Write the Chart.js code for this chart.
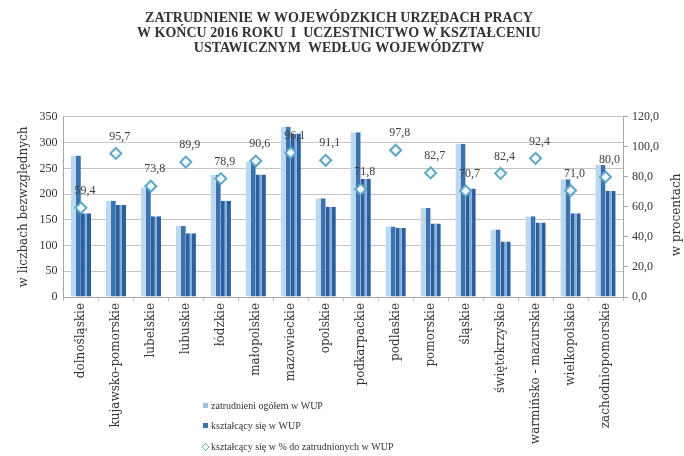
<!DOCTYPE html>
<html>
<head>
<meta charset="utf-8">
<script src="https://cdn.jsdelivr.net/npm/chart.js@4.4.0/dist/chart.umd.min.js"></script>
<style>
  html, body { margin: 0; padding: 0; background: #fff; }
  #wrap { width: 684px; height: 456px; position: relative; }
</style>
</head>
<body>
<div id="wrap"><canvas id="chart"></canvas></div>
<script>
const wojewodztwa = ['dolnośląskie', 'kujawsko-pomorskie', 'lubelskie', 'lubuskie', 'łódzkie', 'małopolskie',
    'mazowieckie', 'opolskie', 'podkarpackie', 'podlaskie', 'pomorskie', 'śląskie',
    'świętokrzyskie', 'warmińsko - mazurskie', 'wielkopolskie', 'zachodniopomorskie'];
const zatrudnieni = [275, 187, 213, 138, 237, 263, 331, 192, 320, 137, 173, 298, 131, 157, 229, 257];
const ksztalcacy = [163, 179, 157, 124, 187, 238, 318, 175, 230, 134, 143, 211, 108, 145, 163, 206];
const procent = [59.4, 95.7, 73.8, 89.9, 78.9, 90.6, 96.1, 91.1, 71.8, 97.8, 82.7, 70.7, 82.4, 92.4, 71.0, 80.0];

const serif = 'Liberation Serif';
const wide = 'DejaVu Serif';
const fmt = v => v.toFixed(1).replace('.', ',');

// etykiety nad rombami, legenda pionowa i tytul prawej osi
const extras = {
    id: 'extras',
    afterDatasetsDraw(chart) {
        const ctx = chart.ctx;
        const meta = chart.getDatasetMeta(2);
        ctx.save();
        ctx.font = '12px "' + serif + '"';
        ctx.fillStyle = '#404040';
        ctx.textAlign = 'center';
        ctx.textBaseline = 'middle';
        meta.data.forEach((pt, i) => {
            ctx.fillText(fmt(procent[i]), pt.x + 4, pt.y - 17);
        });
        ctx.restore();
    },
    afterDraw(chart) {
        const ctx = chart.ctx;
        const ds = chart.data.datasets;
        ctx.save();
        ctx.font = '10px "' + serif + '"';
        ctx.textBaseline = 'middle';
        const x = 206;
        const rows = [406, 426, 447];
        ds.forEach((d, i) => {
            const y = rows[i];
            if (i < 2) {
                ctx.fillStyle = d.legendColor;
                ctx.fillRect(x - 3, y - 3, 5, 5);
            } else {
                ctx.beginPath();
                ctx.moveTo(x - 0.5, y - 3.5);
                ctx.lineTo(x + 3, y);
                ctx.lineTo(x - 0.5, y + 3.5);
                ctx.lineTo(x - 4, y);
                ctx.closePath();
                ctx.fillStyle = '#fff';
                ctx.fill();
                ctx.strokeStyle = '#6aaecb';
                ctx.lineWidth = 1;
                ctx.stroke();
            }
            ctx.fillStyle = '#333';
            ctx.fillText(d.label, x + 5, y);
        });
        // tytul prawej osi
        const yR = chart.scales.y1;
        ctx.font = '12px "' + wide + '"';
        ctx.textAlign = 'center';
        ctx.translate(677, (yR.top + yR.bottom) / 2 + 8);
        ctx.rotate(-Math.PI / 2);
        ctx.fillText('w procentach', 0, 0);
        ctx.restore();
    }
};

new Chart(document.getElementById('chart'), {
    data: {
        labels: wojewodztwa,
        datasets: [
            {
                type: 'bar',
                label: 'zatrudnieni ogółem w WUP',
                data: zatrudnieni,
                backgroundColor: '#bcd8ef',
                borderColor: '#3a72b2',
                borderWidth: { left: 0, right: 5, top: 0, bottom: 0 },
                borderSkipped: false,
                legendColor: '#9cc3e6',
                categoryPercentage: 0.58,
                barPercentage: 1,
                yAxisID: 'y',
                order: 2
            },
            {
                type: 'bar',
                label: 'kształcący się w WUP',
                data: ksztalcacy,
                backgroundColor: '#7fb0de',
                borderColor: '#2d5f9c',
                borderWidth: { left: 4, right: 4, top: 0, bottom: 0 },
                borderSkipped: false,
                legendColor: '#3c6fb0',
                categoryPercentage: 0.58,
                barPercentage: 1,
                yAxisID: 'y',
                order: 2
            },
            {
                type: 'line',
                label: 'kształcący się w % do zatrudnionych w WUP',
                data: procent,
                showLine: false,
                pointStyle: 'rectRot',
                pointRadius: 5.5,
                pointBackgroundColor: '#eef7fa',
                pointBorderColor: '#5fa6c4',
                pointBorderWidth: 2,
                yAxisID: 'y1',
                order: 0
            }
        ]
    },
    options: {
        responsive: true,
        maintainAspectRatio: false,
        animation: false,
        layout: { padding: { left: 15, right: 21, top: 4, bottom: 4 } },
        plugins: {
            legend: { display: false },
            tooltip: { enabled: false },
            title: {
                display: true,
                text: ['ZATRUDNIENIE W WOJEWÓDZKICH URZĘDACH PRACY',
                    'W KOŃCU 2016 ROKU  I  UCZESTNICTWO W KSZTAŁCENIU',
                    'USTAWICZNYM  WEDŁUG WOJEWÓDZTW'],
                color: '#333',
                font: { family: serif, size: 14, weight: 'bold', lineHeight: 1.07 },
                padding: { top: 7, bottom: 61 }
            }
        },
        scales: {
            x: {
                offset: true,
                afterFit: s => { s.height = 155; },
                grid: { display: true, drawOnChartArea: false, offset: true, tickLength: 4, color: '#bfbfbf' },
                border: { color: '#a6a6a6' },
                ticks: {
                    autoSkip: false, maxRotation: 90, minRotation: 90, padding: 2,
                    color: '#333', font: { family: wide, size: 12 }
                }
            },
            y: {
                position: 'left',
                min: 0, max: 350,
                ticks: { stepSize: 50, color: '#333', font: { family: serif, size: 12 }, padding: 6 },
                grid: { color: '#c4c4c4', drawTicks: false },
                border: { color: '#a6a6a6' },
                title: { display: true, text: 'w liczbach bezwzględnych', color: '#333',
                    font: { family: wide, size: 12 }, padding: 2 }
            },
            y1: {
                position: 'right',
                min: 0, max: 120,
                ticks: { stepSize: 20, color: '#333', font: { family: serif, size: 12 }, padding: 4,
                    callback: v => fmt(v) },
                grid: { drawOnChartArea: false, tickLength: 5, color: '#a6a6a6' },
                border: { color: '#a6a6a6' }
            }
        }
    },
    plugins: [extras]
});
</script>
</body>
</html>
